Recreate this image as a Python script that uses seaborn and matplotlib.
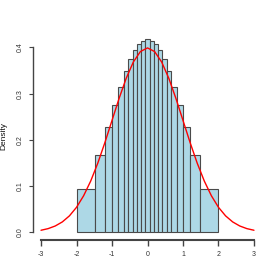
import numpy as np
import pandas as pd
import matplotlib
matplotlib.use("Agg")
import matplotlib.pyplot as plt
import seaborn as sns

# bin edges of the histogram
bin_edges = [-2.0, -1.49, -1.207, -0.998, -0.825, -0.674, -0.537, -0.410, -0.289,
             -0.172, -0.057, 0.057, 0.172, 0.289, 0.410, 0.537, 0.674, 0.825,
             0.998, 1.207, 1.49, 2.0]
# bar heights (density)
bin_density = [0.094, 0.168, 0.228, 0.275, 0.315, 0.348, 0.375, 0.394, 0.407,
               0.414, 0.418, 0.414, 0.407, 0.394, 0.375, 0.348, 0.315, 0.275,
               0.228, 0.168, 0.094]

# red density curve, read at steps of 0.2
curve_x = [-3.0, -2.8, -2.6, -2.4, -2.2, -2.0, -1.8, -1.6, -1.4, -1.2, -1.0,
           -0.8, -0.6, -0.4, -0.2, 0.0, 0.2, 0.4, 0.6, 0.8, 1.0, 1.2, 1.4,
           1.6, 1.8, 2.0, 2.2, 2.4, 2.6, 2.8, 3.0]
curve_y = [0.0044, 0.0079, 0.0136, 0.0224, 0.0355, 0.0540, 0.0790, 0.1109,
           0.1497, 0.1942, 0.2420, 0.2897, 0.3332, 0.3683, 0.3910, 0.3989,
           0.3910, 0.3683, 0.3332, 0.2897, 0.2420, 0.1942, 0.1497, 0.1109,
           0.0790, 0.0540, 0.0355, 0.0224, 0.0136, 0.0079, 0.0044]

x_ticks = [-3, -2, -1, 0, 1, 2, 3]
y_ticks = [0.0, 0.1, 0.2, 0.3, 0.4]

sns.set_style("ticks")
plt.rcParams['font.family'] = ['Liberation Sans', 'DejaVu Sans']

edges = np.array(bin_edges)
bars = pd.DataFrame({'x': (edges[:-1] + edges[1:]) / 2, 'd': bin_density})
curve = pd.DataFrame({'x': curve_x, 'y': curve_y})

fig = plt.figure(figsize=(2.8, 2.8), dpi=100)
ax = fig.add_axes([32.5 / 280, (280 - 240) / 280, 230 / 280, 208.5 / 280])

sns.histplot(data=bars, x='x', weights='d', bins=bin_edges, stat='count',
             color='lightblue', edgecolor='#4a4a4a', linewidth=0.8, alpha=1,
             ax=ax)
sns.lineplot(data=curve, x='x', y='y', color='red', linewidth=1.0, ax=ax)

ax.set_xlim(-3.24, 3.24)
ax.set_ylim(-0.0167, 0.4344)
ax.set_xticks(x_ticks)
ax.set_xticklabels([str(t) for t in x_ticks])
ax.set_yticks(y_ticks)
ax.set_yticklabels(['0.0', '0.1', '0.2', '0.3', '0.4'], rotation=90, va='center')
ax.set_xlabel('')
ax.set_ylabel('Density', fontsize=6, labelpad=7, color='#111111')

sns.despine(ax=ax)
ax.spines['bottom'].set_bounds(-3, 3)
ax.spines['left'].set_bounds(0, 0.4)
for side in ['bottom', 'left']:
    ax.spines[side].set_color('#444444')
    ax.spines[side].set_zorder(5)
ax.spines['left'].set_linewidth(1.0)
ax.spines['bottom'].set_linewidth(1.5)
ax.tick_params(axis='both', direction='out', length=3, width=0.8,
               color='#444444', labelsize=5, labelcolor='#333333', pad=3)
ax.tick_params(axis='x', length=4, width=1.0, pad=4)

fig.savefig('out.png', dpi=100)
